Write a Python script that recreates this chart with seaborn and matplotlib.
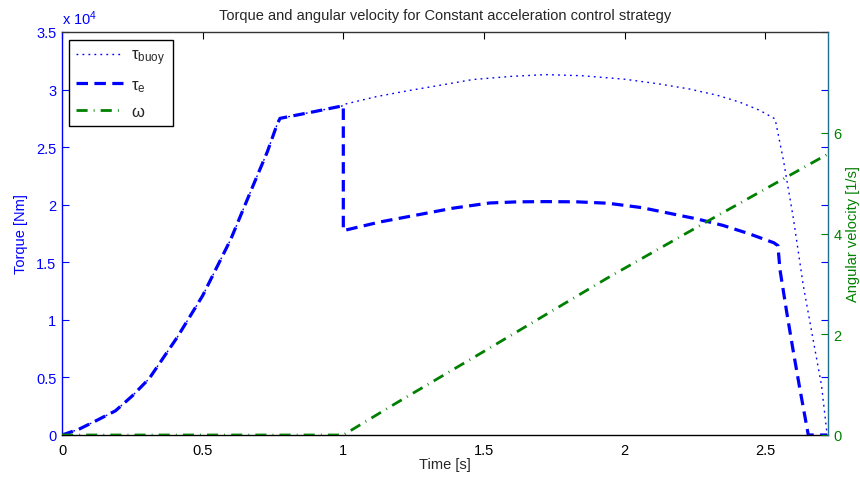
import matplotlib
matplotlib.use("Agg")
import matplotlib.pyplot as plt
import seaborn as sns
import pandas as pd
from matplotlib.ticker import FuncFormatter, MultipleLocator

# ---- data (torque in Nm, omega in 1/s) ----
t_rise = [0.0, 0.06, 0.11, 0.19, 0.25, 0.31, 0.41, 0.50, 0.60, 0.68, 0.73, 0.765, 0.775, 0.90, 1.0]
tq_rise = [0, 500, 1100, 2100, 3400, 4900, 8500, 12100, 17000, 21700, 24600, 27000, 27500, 28100, 28600]

t_buoy_tail = [1.0, 1.12, 1.23, 1.35, 1.46, 1.60, 1.72, 1.85, 2.00, 2.12, 2.23, 2.33, 2.41, 2.48, 2.535,
               2.565, 2.60, 2.635, 2.67, 2.70, 2.72]
tq_buoy_tail = [28700, 29400, 29900, 30400, 30870, 31150, 31300, 31200, 30900, 30500, 30050, 29500, 28900,
                28200, 27450, 23800, 18800, 13000, 8300, 4300, 0]

t_e_tail = [1.0, 1.0, 1.13, 1.26, 1.39, 1.52, 1.62, 1.72, 1.83, 1.94, 2.06, 2.17, 2.26, 2.35, 2.44, 2.53,
            2.545, 2.552, 2.576, 2.60, 2.623, 2.653, 2.72]
tq_e_tail = [28600, 17750, 18500, 19100, 19700, 20150, 20250, 20270, 20250, 20130, 19750, 19200, 18750,
             18200, 17500, 16700, 16450, 14400, 10700, 7200, 4000, 0, 0]

t_omega = [0.0, 1.0, 1.19, 1.50, 1.94, 2.30, 2.72]
omega = [0.0, 0.0, 0.64, 1.66, 3.12, 4.26, 5.57]

buoy = pd.DataFrame({"t": t_rise + t_buoy_tail, "v": tq_rise + tq_buoy_tail})
te = pd.DataFrame({"t": t_rise + t_e_tail, "v": tq_rise + tq_e_tail})
om = pd.DataFrame({"t": t_omega, "v": omega})

BLUE = "#0000ff"
GREEN = "#008000"

sns.set_theme(style="white")
plt.rcParams["font.family"] = ["Liberation Sans", "DejaVu Sans"]
plt.rcParams["mathtext.fontset"] = "custom"
plt.rcParams["mathtext.rm"] = "Liberation Sans"
plt.rcParams["mathtext.it"] = "Liberation Sans"

fig = plt.figure(figsize=(8.6, 4.81), dpi=100)
ax = fig.add_axes([62 / 860, 45 / 481, 766 / 860, 403 / 481])
ax2 = ax.twinx()

sns.lineplot(data=buoy, x="t", y="v", ax=ax, color=BLUE, lw=1.0, estimator=None, sort=False,
             label="τ$_{\\mathrm{buoy}}$")
ax.lines[-1].set_dashes((1.3, 3.0))
sns.lineplot(data=te, x="t", y="v", ax=ax, color=BLUE, lw=2.3, estimator=None, sort=False,
             label="τ$_{\\mathrm{e}}$")
ax.lines[-1].set_dashes((3.6, 2.0))
sns.lineplot(data=om, x="t", y="v", ax=ax2, color=GREEN, lw=2.0, estimator=None, sort=False,
             label="ω")
ax2.lines[-1].set_dashes((4.0, 2.2, 0.3, 2.2))

ax.set_xlim(0, 2.723)
ax.set_ylim(0, 35000)
ax2.set_ylim(0, 8)

ax.xaxis.set_major_locator(MultipleLocator(0.5))
ax.yaxis.set_major_locator(MultipleLocator(5000))
ax2.set_yticks([0, 2, 4, 6])
ax.xaxis.set_major_formatter(FuncFormatter(lambda v, p: f"{v:g}"))
ax.yaxis.set_major_formatter(FuncFormatter(lambda v, p: f"{v / 1e4:g}"))

ax.tick_params(axis="x", direction="in", length=5, width=0.8, colors="black", labelsize=10.5,
               top=True, pad=6)
ax.tick_params(axis="y", direction="in", length=5, width=0.8, colors=BLUE, labelsize=10.5,
               right=True, pad=4)
ax2.tick_params(axis="y", direction="in", length=5, width=0.8, colors=GREEN, labelsize=10.5, pad=4)

for a in (ax, ax2):
    for s in a.spines.values():
        s.set_linewidth(1.0)
ax.spines["left"].set_color(BLUE)
ax.spines["bottom"].set_color("black")
ax.spines["top"].set_color("#333333")
ax.spines["right"].set_visible(False)
ax2.spines["right"].set_color("#1f6f8f")
ax2.spines["left"].set_visible(False)
ax2.spines["top"].set_visible(False)
ax2.spines["bottom"].set_visible(False)

ax.set_xlabel("Time [s]", fontsize=10.5, labelpad=0)
ax.set_ylabel("Torque [Nm]", fontsize=10.5, color=BLUE, labelpad=6)
ax2.set_ylabel("Angular velocity [1/s]", fontsize=10.5, color=GREEN, labelpad=3)
ax.set_title("Torque and angular velocity for Constant acceleration control strategy", fontsize=10.5, pad=9)
ax.text(0.0, 1.012, r"x 10$^4$", transform=ax.transAxes, color=BLUE, fontsize=10.5, ha="left", va="bottom")

h1, l1 = ax.get_legend_handles_labels()
h2, l2 = ax2.get_legend_handles_labels()
if ax2.get_legend():
    ax2.get_legend().remove()
if ax.get_legend():
    ax.get_legend().remove()
leg = ax2.legend(h1 + h2, l1 + l2, loc="upper left", bbox_to_anchor=(0.009, 0.98), fontsize=12,
                 frameon=True, fancybox=False, edgecolor="black", framealpha=1, handlelength=2.8,
                 borderpad=0.45, labelspacing=0.6, handletextpad=0.5, borderaxespad=0)
leg.get_frame().set_linewidth(1.0)

fig.savefig("out.png", dpi=100)
